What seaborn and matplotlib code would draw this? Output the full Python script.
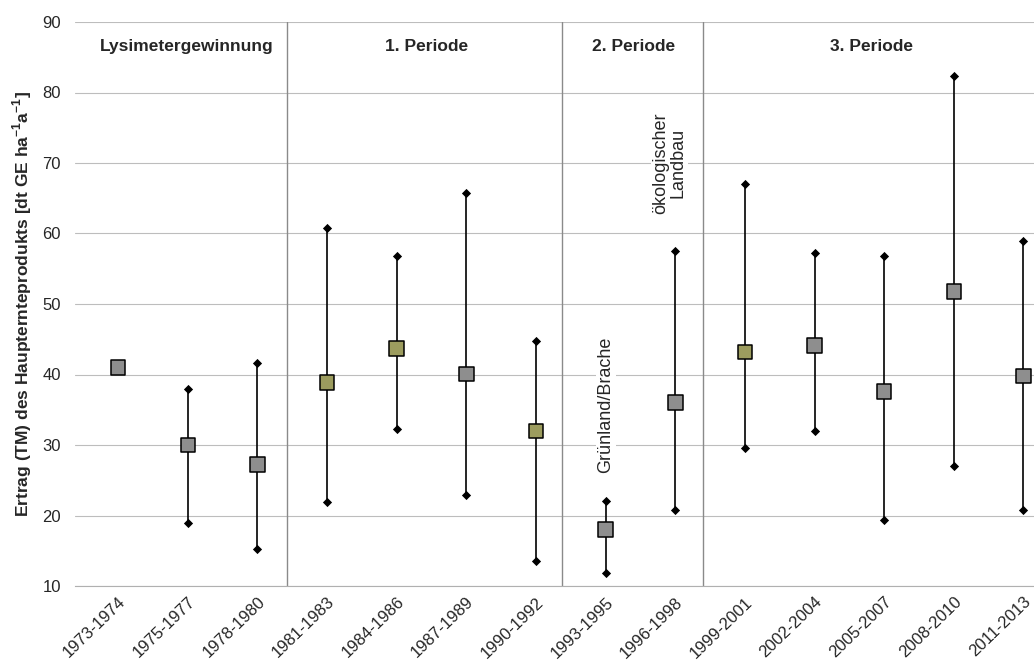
import numpy as np
import pandas as pd
import matplotlib
matplotlib.use("Agg")
import matplotlib.pyplot as plt
import seaborn as sns

periods = ["1973-1974", "1975-1977", "1978-1980", "1981-1983", "1984-1986",
           "1987-1989", "1990-1992", "1993-1995", "1996-1998", "1999-2001",
           "2002-2004", "2005-2007", "2008-2010", "2011-2013"]
mean_yield = [41.0, 30.0, 27.2, 38.9, 43.7, 40.1, 32.0, 18.0, 36.0, 43.2, 44.1, 37.6, 51.8, 39.8]
min_yield = [np.nan, 19.0, 15.3, 21.9, 32.2, 22.9, 13.6, 11.9, 20.8, 29.6, 32.0, 19.3, 27.0, 20.8]
max_yield = [np.nan, 37.9, 41.7, 60.8, 56.8, 65.7, 44.8, 22.0, 57.5, 67.0, 57.2, 56.8, 82.4, 59.0]
square_kind = ["grau", "grau", "grau", "oliv", "oliv", "grau", "oliv",
               "grau", "grau", "oliv", "grau", "grau", "grau", "grau"]

phase_names = ["Lysimetergewinnung", "1. Periode", "2. Periode", "3. Periode"]
phase_centers = [0.98, 4.43, 7.4, 10.82]
phase_bounds = [2.42, 6.38, 8.4]

df = pd.DataFrame({
    "periode": periods,
    "x": np.arange(len(periods)),
    "mittel": mean_yield,
    "min": min_yield,
    "max": max_yield,
    "farbe": square_kind,
})

sns.set_style("white")
plt.rcParams["font.family"] = ["Liberation Sans", "DejaVu Sans"]

fig = plt.figure(figsize=(10.34, 6.72), dpi=100)
ax = fig.add_axes([75 / 1034, 1 - 586 / 672, 1 - 75 / 1034 + 0.01, (586 - 22) / 672])

for y in range(10, 100, 10):
    ax.axhline(y, color="#bdbdbd", lw=0.8, zorder=0)

for b in phase_bounds:
    ax.axvline(b, color="#8a8a8a", lw=1.0, zorder=1)

rng = df.dropna(subset=["min", "max"])
ax.vlines(rng["x"], rng["min"], rng["max"], color="black", lw=1.2, zorder=2)

ends = pd.concat([
    rng[["x", "min"]].rename(columns={"min": "wert"}),
    rng[["x", "max"]].rename(columns={"max": "wert"}),
])
sns.scatterplot(data=ends, x="x", y="wert", marker="D", color="black",
                s=22, edgecolor="black", linewidth=0, ax=ax, zorder=3)

sns.scatterplot(data=df, x="x", y="mittel", hue="farbe", marker="s",
                palette={"grau": "#8e8e8e", "oliv": "#9c9c5e"},
                s=110, edgecolor="black", linewidth=1.1, ax=ax, zorder=4,
                legend=False)

for name, cx in zip(phase_names, phase_centers):
    ax.text(cx, 86.5, name, ha="center", va="center", fontsize=12.5,
            fontweight="bold")

ax.text(7.0, 35.7, "Grünland/Brache", rotation=90, ha="center", va="center",
        fontsize=13, bbox=dict(facecolor="white", edgecolor="none", pad=1))
ax.text(7.92, 70.0, "ökologischer\nLandbau", rotation=90, ha="center",
        va="center", fontsize=13, linespacing=1.0,
        bbox=dict(facecolor="white", edgecolor="none", pad=1))

ax.set_xlim(-0.62, 13.3)
ax.set_ylim(10, 90)
ax.set_yticks(range(10, 100, 10))
ax.set_xticks(df["x"])
ax.set_xticklabels(periods, rotation=44, ha="right", rotation_mode="anchor",
                   fontsize=12)
ax.tick_params(axis="y", labelsize=12, length=0, pad=10)
ax.tick_params(axis="x", length=0, pad=6)
ax.set_xticks(np.arange(0.5, 13.5, 1), minor=True)
ax.tick_params(axis="x", which="minor", length=4, color="#b0b0b0")

ax.set_xlabel("")
ax.set_ylabel("Ertrag (TM) des Haupternteprodukts [dt GE ha$^{\\mathregular{-1}}$a$^{\\mathregular{-1}}$]",
              fontsize=12.5, fontweight="bold", labelpad=6)

for side in ["top", "right", "left"]:
    ax.spines[side].set_visible(False)
ax.spines["bottom"].set_color("#b0b0b0")

fig.savefig("out.png", dpi=100)
